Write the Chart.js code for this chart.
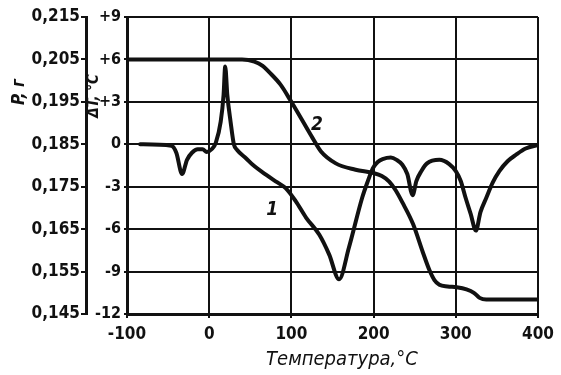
<!DOCTYPE html>
<html><head><meta charset="utf-8">
<script src="https://cdn.jsdelivr.net/npm/chart.js@4"></script>
<style>html,body{margin:0;padding:0;background:#fff}#wrap{width:561px;height:375px}</style>
</head><body><div id="wrap"><canvas id="c" width="561" height="375"></canvas></div>
<script>
// Curve 1: DTA, ΔT (°C) vs temperature
const tempDTA = [-84,-46,-40,-33,-27,-21,-14,-8,-3,3,8,14,17.5,19.5,22,26,30,34,45,53,69,83,93,105,118,134,146,158,170,186,193,199,205,211,221,228,235,241,247.5,252,258,265,280,292,300,306,312,318,324.5,330,337,345,353,363,373,385,400];
const dta     = [0,-0.1,-0.6,-2.1,-1.1,-0.6,-0.35,-0.35,-0.55,-0.35,0.1,1.6,3.5,5.5,3.5,1.6,0,-0.4,-1.0,-1.45,-2.15,-2.7,-3.1,-4.0,-5.2,-6.4,-7.8,-9.55,-7.3,-3.8,-2.6,-1.7,-1.25,-1.05,-0.94,-1.1,-1.45,-2.1,-3.6,-2.6,-1.9,-1.35,-1.1,-1.4,-1.9,-2.6,-3.8,-4.9,-6.1,-4.8,-3.8,-2.7,-1.9,-1.2,-0.75,-0.3,-0.05];
// Curve 2: mass P (g) vs temperature
const tempMass = [-100,40,55,65,73,87,99,113,126,136,154,178,200,210,219,227,235,248,260,268,274,280,290,301,313,322,329,337,400];
const mass     = [0.205,0.205,0.2045,0.2035,0.202,0.199,0.1953,0.1907,0.1864,0.1833,0.1805,0.1790,0.1782,0.1775,0.1762,0.1741,0.1713,0.1662,0.1595,0.1553,0.1530,0.1519,0.1515,0.1513,0.1508,0.1500,0.1488,0.1484,0.1484];
// Tick values
const xTicks  = [-100,0,100,200,300,400];
const dtTicks = [-12,-9,-6,-3,0,3,6,9];
const pTicks  = [0.145,0.155,0.165,0.175,0.185,0.195,0.205,0.215];
// Curve labels
const curveLabels = [{text:'1', x:76.6, y:-4.65},{text:'2', x:131, y:1.34}];

const INK = '#111';
const tickFont = {family:"'DejaVu Sans Condensed','DejaVu Sans',sans-serif", size:17, weight:'bold'};
const innerFont = {family:"'DejaVu Sans Condensed','DejaVu Sans',sans-serif", size:16, weight:'bold'};

const textPlugin = {
  id:'texts',
  afterDraw(chart){
    const ctx = chart.ctx;
    ctx.save();
    ctx.fillStyle = INK;
    ctx.textAlign='center'; ctx.textBaseline='middle';
    ctx.font = "italic bold 17px 'DejaVu Sans Condensed','DejaVu Sans',sans-serif";
    ctx.save(); ctx.translate(20, 92); ctx.rotate(-Math.PI/2); ctx.fillText('P, г',0,0); ctx.restore();
    ctx.font = "italic bold 15px 'DejaVu Sans Condensed','DejaVu Sans',sans-serif";
    ctx.save(); ctx.translate(94, 96); ctx.rotate(-Math.PI/2); ctx.fillText('ΔT, °C',0,0); ctx.restore();
    ctx.font = "italic 20px 'DejaVu Sans Condensed','DejaVu Sans',sans-serif";
    ctx.fillText('Температура,°C', 342, 360);
    ctx.font = "italic bold 19px 'DejaVu Sans Condensed','DejaVu Sans',sans-serif";
    const xs = chart.scales.x, ys = chart.scales.y;
    curveLabels.forEach(l=>ctx.fillText(l.text, xs.getPixelForValue(l.x), ys.getPixelForValue(l.y)));
    ctx.restore();
  }
};

new Chart(document.getElementById('c').getContext('2d'), {
  type:'scatter',
  data:{datasets:[
    {label:'1', data:tempDTA.map((t,i)=>({x:t,y:dta[i]})), yAxisID:'y', showLine:true, pointRadius:0, borderColor:INK, borderWidth:4, cubicInterpolationMode:'monotone', borderCapStyle:'round', borderJoinStyle:'round'},
    {label:'2', data:tempMass.map((t,i)=>({x:t,y:mass[i]})), yAxisID:'yP', showLine:true, pointRadius:0, borderColor:INK, borderWidth:4, cubicInterpolationMode:'monotone', borderCapStyle:'round', borderJoinStyle:'round'}
  ]},
  options:{
    responsive:false, animation:false, devicePixelRatio:1,
    layout:{padding:{left:0,right:23,top:17,bottom:0}},
    plugins:{legend:{display:false}, tooltip:{enabled:false}},
    scales:{
      x:{type:'linear', position:'bottom', min:-100, max:400,
        afterBuildTicks:s=>{s.ticks=xTicks.map(v=>({value:v}));},
        afterFit:s=>{s.height=61;},
        grid:{color:INK, lineWidth:2, tickLength:4},
        border:{display:true, width:3, color:INK},
        ticks:{font:tickFont, color:INK, padding:6, maxRotation:0, callback:v=>String(v)}},
      y:{type:'linear', position:'left', weight:0, min:-12, max:9,
        afterBuildTicks:s=>{s.ticks=dtTicks.map(v=>({value:v}));},
        afterFit:s=>{s.width=41;},
        grid:{color:INK, lineWidth:2, tickLength:3},
        border:{display:true, width:3, color:INK},
        ticks:{font:innerFont, color:INK, padding:3, callback:v=>v>0?'+'+v:String(v)}},
      yP:{type:'linear', position:'left', weight:1, min:0.145, max:0.215,
        afterBuildTicks:s=>{s.ticks=pTicks.map(v=>({value:v}));},
        afterFit:s=>{s.width=86;},
        grid:{drawOnChartArea:false, color:INK, lineWidth:2, tickLength:5},
        border:{display:true, width:3, color:INK},
        ticks:{font:tickFont, color:INK, padding:1, callback:v=>v.toFixed(3).replace('.',',')}}
    }
  },
  plugins:[textPlugin]
});
</script></body></html>
